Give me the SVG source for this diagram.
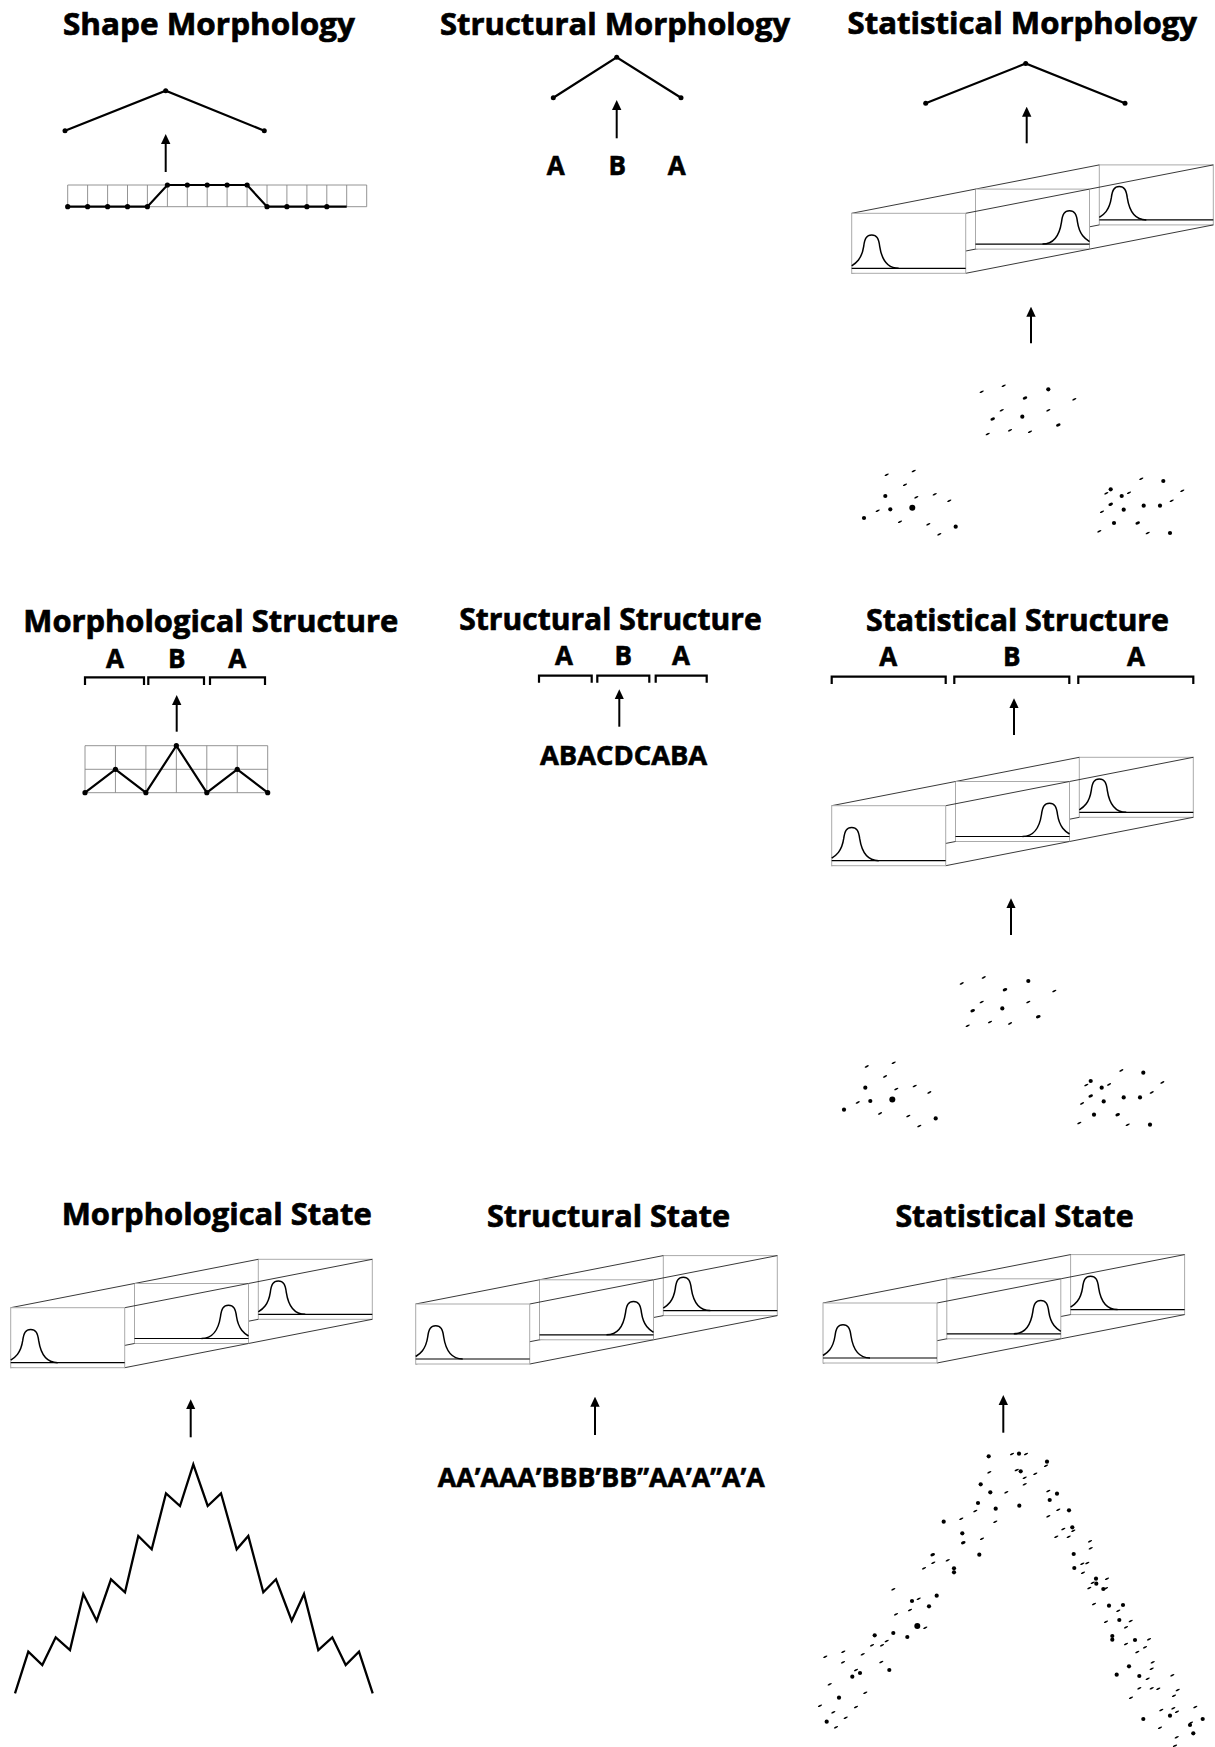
<svg xmlns="http://www.w3.org/2000/svg" xmlns:xlink="http://www.w3.org/1999/xlink" width="1215" height="1747" viewBox="0 0 1215 1747">
<style>
.t{font-family:"Open Sans","Liberation Sans",sans-serif;font-weight:700;font-size:31px;fill:#000;stroke:#000;stroke-width:0.7}
.l{font-family:"Open Sans","Liberation Sans",sans-serif;font-weight:700;font-size:26px;fill:#000;stroke:#000;stroke-width:0.6;text-anchor:middle}
.tr{fill:none;stroke:#000;stroke-width:2.2}
.grid{fill:none;stroke:#888;stroke-width:0.9}
.zz{fill:none;stroke:#000;stroke-width:2.3;stroke-linejoin:miter}
.br{fill:none;stroke:#000;stroke-width:2.2}
.pn{fill:#fff;stroke:#aaa;stroke-width:1}
.bl{stroke:#000;stroke-width:1.2}
.cv{fill:none;stroke:#000;stroke-width:1.5}
.ed{stroke:#222;stroke-width:0.9}
.ar{stroke:#000;stroke-width:2;marker-end:url(#ah)}
</style>
<defs>
<marker id="ah" viewBox="0 0 10 10" markerUnits="userSpaceOnUse" markerWidth="10" markerHeight="10" refX="1" refY="5" orient="auto">
<path d="M0,0.3 L10,5 L0,9.7 Z" fill="#000"/>
</marker>
<circle id="o" r="2.1"/>
<circle id="O" r="3"/>
<ellipse id="e" rx="2.4" ry="1.5" transform="rotate(-25)"/>
<ellipse id="s" rx="2.3" ry="0.85" transform="rotate(-25)"/>
<g id="box">
<g transform="translate(247.6,-48.4)">
<rect class="pn" width="114" height="60"/>
<line class="bl" x1="0" y1="55" x2="114" y2="55"/>
<path class="cv" d="M0,52.5 C4,50 10,46 12,33 C13,25 15,21.7 20,21.7 C25,21.7 27,25 28,33 C30,46 36,55 47,55"/>
</g>
<line class="ed" x1="123.8" y1="-24.2" x2="247.6" y2="-48.4"/>
<line class="ed" x1="237.8" y1="-24.2" x2="361.6" y2="-48.4"/>
<line class="ed" x1="123.8" y1="35.8" x2="247.6" y2="11.6"/>
<line class="ed" x1="237.8" y1="35.8" x2="361.6" y2="11.6"/>
<g transform="translate(123.8,-24.2)">
<rect class="pn" width="114" height="60"/>
<line class="bl" x1="0" y1="55" x2="114" y2="55"/>
<path class="cv" d="M67,55 C78,55 84,46 86,33 C87,25 89,21.7 94,21.7 C99,21.7 101,25 102,33 C104,46 110,50 114,52.5"/>
</g>
<line class="ed" x1="0" y1="0" x2="123.8" y2="-24.2"/>
<line class="ed" x1="114" y1="0" x2="237.8" y2="-24.2"/>
<line class="ed" x1="0" y1="60" x2="123.8" y2="35.8"/>
<line class="ed" x1="114" y1="60" x2="237.8" y2="35.8"/>
<g>
<rect class="pn" width="114" height="60"/>
<line class="bl" x1="0" y1="55" x2="114" y2="55"/>
<path class="cv" d="M0,52.5 C4,50 10,46 12,33 C13,25 15,21.7 20,21.7 C25,21.7 27,25 28,33 C30,46 36,55 47,55"/>
</g>
</g>
<g id="cloud">
<use href="#s" x="981.7" y="391.7"/><use href="#s" x="1003.7" y="385.7"/><use href="#o" x="1048.3" y="389.3"/>
<use href="#e" x="1025" y="398"/><use href="#s" x="1074.3" y="399.3"/><use href="#s" x="1001.7" y="410.3"/>
<use href="#s" x="1048.3" y="410.3"/><use href="#e" x="992.7" y="419"/><use href="#o" x="1022.3" y="416.7"/>
<use href="#e" x="1058.3" y="425"/><use href="#s" x="987.7" y="434"/><use href="#s" x="1010" y="430.3"/>
<use href="#s" x="1030" y="431.7"/>
<use href="#s" x="886.7" y="474.7"/><use href="#s" x="913.7" y="471"/><use href="#s" x="905" y="484.7"/>
<use href="#o" x="885.3" y="496"/><use href="#s" x="916.3" y="497.3"/><use href="#s" x="934.7" y="494.3"/>
<use href="#s" x="949.3" y="500.7"/><use href="#s" x="877.7" y="510.7"/><use href="#o" x="890.3" y="509.3"/>
<use href="#O" x="912.3" y="507.7"/><use href="#o" x="864" y="518"/><use href="#s" x="900" y="521.7"/>
<use href="#s" x="928.3" y="524.3"/><use href="#o" x="955.7" y="526.7"/><use href="#s" x="939.3" y="534.3"/>
<use href="#s" x="1141.3" y="478.7"/><use href="#o" x="1163.3" y="481"/><use href="#s" x="1182.3" y="490.7"/>
<use href="#o" x="1110.7" y="489.3"/><use href="#s" x="1106.3" y="493.3"/><use href="#o" x="1121.7" y="496"/>
<use href="#s" x="1129" y="492.7"/><use href="#e" x="1110.7" y="504.3"/><use href="#s" x="1102" y="511.7"/>
<use href="#o" x="1123.7" y="509.7"/><use href="#o" x="1143.7" y="505.7"/><use href="#o" x="1160" y="505.7"/>
<use href="#s" x="1171.7" y="500.7"/><use href="#o" x="1114" y="523"/><use href="#e" x="1137.7" y="523"/>
<use href="#s" x="1099.3" y="531.3"/><use href="#s" x="1147.7" y="533"/><use href="#o" x="1170" y="533"/>
</g>
</defs>
<rect width="1215" height="1747" fill="#fff"/>

<g id="shape-morphology">
<text class="t" x="63" y="35" textLength="292" lengthAdjust="spacingAndGlyphs">Shape Morphology</text>
<polyline class="tr" points="65,130.7 165.7,90.7 264.3,130.7"/>
<circle cx="65" cy="130.7" r="2.5"/><circle cx="165.7" cy="90.7" r="2.5"/><circle cx="264.3" cy="130.7" r="2.5"/>
<path class="grid" d="M67.7,185 H366.7 V206.7 H67.7 Z M87.6,185 V206.7 M107.6,185 V206.7 M127.5,185 V206.7 M147.4,185 V206.7 M167.4,185 V206.7 M187.3,185 V206.7 M207.2,185 V206.7 M227.1,185 V206.7 M247.1,185 V206.7 M267,185 V206.7 M286.9,185 V206.7 M306.9,185 V206.7 M326.8,185 V206.7 M346.7,185 V206.7"/>
<polyline class="tr" points="67.7,206.7 147.4,206.7 167.4,185 247.1,185 267,206.7 346.7,206.7"/>
<g>
<circle cx="67.7" cy="206.7" r="2.6"/><circle cx="87.6" cy="206.7" r="2.6"/><circle cx="107.6" cy="206.7" r="2.6"/><circle cx="127.5" cy="206.7" r="2.6"/><circle cx="147.4" cy="206.7" r="2.6"/>
<circle cx="167.4" cy="185" r="2.6"/><circle cx="187.3" cy="185" r="2.6"/><circle cx="207.2" cy="185" r="2.6"/><circle cx="227.1" cy="185" r="2.6"/><circle cx="247.1" cy="185" r="2.6"/>
<circle cx="267" cy="206.7" r="2.6"/><circle cx="286.9" cy="206.7" r="2.6"/><circle cx="306.9" cy="206.7" r="2.6"/><circle cx="326.8" cy="206.7" r="2.6"/>
</g>
</g>

<g id="structural-morphology">
<text class="t" x="440" y="35" textLength="350" lengthAdjust="spacingAndGlyphs">Structural Morphology</text>
<polyline class="tr" points="553.3,97.7 616.7,57.3 681,97.7"/>
<circle cx="553.3" cy="97.7" r="2.5"/><circle cx="616.7" cy="57.3" r="2.5"/><circle cx="681" cy="97.7" r="2.5"/>
<text class="l" x="555.7" y="175">A</text>
<text class="l" x="617.3" y="175">B</text>
<text class="l" x="676.7" y="175">A</text>
</g>

<g id="statistical-morphology">
<text class="t" x="847.5" y="34" textLength="349.5" lengthAdjust="spacingAndGlyphs">Statistical Morphology</text>
<polyline class="tr" points="925.7,103.3 1025.7,63.5 1125,103.3"/>
<circle cx="925.7" cy="103.3" r="2.5"/><circle cx="1025.7" cy="63.5" r="2.5"/><circle cx="1125" cy="103.3" r="2.5"/>
<use href="#box" transform="translate(851.7,213.3)"/>
<use href="#cloud"/>
</g>

<g id="morphological-structure">
<text class="t" x="23.3" y="631.7" textLength="375" lengthAdjust="spacingAndGlyphs">Morphological Structure</text>
<text class="l" x="115" y="668.3">A</text>
<text class="l" x="176.7" y="668.3">B</text>
<text class="l" x="237.3" y="668.3">A</text>
<path class="br" d="M85,685 V677.3 H144 V685 M148.3,685 V677.3 H204 V685 M210,685 V677.3 H265 V685"/>
<path class="grid" d="M85,745.7 H267.7 V792.7 H85 Z M85,769.3 H267.7 M115.45,745.7 V792.7 M145.9,745.7 V792.7 M176.35,745.7 V792.7 M206.8,745.7 V792.7 M237.25,745.7 V792.7"/>
<polyline class="tr" points="85,792.7 115.45,769.3 145.9,792.7 176.35,745.7 206.8,792.7 237.25,769.3 267.7,792.7"/>
<circle cx="85" cy="792.7" r="2.6"/><circle cx="115.45" cy="769.3" r="2.6"/><circle cx="145.9" cy="792.7" r="2.6"/><circle cx="176.35" cy="745.7" r="2.6"/><circle cx="206.8" cy="792.7" r="2.6"/><circle cx="237.25" cy="769.3" r="2.6"/><circle cx="267.7" cy="792.7" r="2.6"/>
</g>

<g id="structural-structure">
<text class="t" x="459.3" y="630" textLength="302.4" lengthAdjust="spacingAndGlyphs">Structural Structure</text>
<text class="l" x="564" y="665">A</text>
<text class="l" x="623.3" y="665">B</text>
<text class="l" x="681" y="665">A</text>
<path class="br" d="M539,682.7 V675.7 H591.7 V682.7 M597.3,682.7 V675.7 H649.3 V682.7 M655.7,682.7 V675.7 H706.7 V682.7"/>
<text class="l" x="623.6" y="765" textLength="167.3" lengthAdjust="spacingAndGlyphs">ABACDCABA</text>
</g>

<g id="statistical-structure">
<text class="t" x="866" y="630.5" textLength="303" lengthAdjust="spacingAndGlyphs">Statistical Structure</text>
<text class="l" x="888.3" y="666">A</text>
<text class="l" x="1011.7" y="666">B</text>
<text class="l" x="1136" y="666">A</text>
<path class="br" d="M831.7,684 V676.7 H945.7 V684 M954.3,684 V676.7 H1069.3 V684 M1078.3,684 V676.7 H1193.3 V684"/>
<use href="#box" transform="translate(831.7,805.7)"/>
<use href="#cloud" transform="translate(-20,591.7)"/>
</g>

<g id="morphological-state">
<text class="t" x="61.7" y="1225" textLength="310" lengthAdjust="spacingAndGlyphs">Morphological State</text>
<use href="#box" transform="translate(10.7,1307.7)"/>
<polyline class="zz" points="15,1693.3 28.3,1651.7 42.3,1665 55.7,1637.3 70,1650 83.3,1594 96.7,1620.7 111,1579.3 125,1592.3 138.3,1536 151.7,1549.3 166,1493.3 180,1506 193.3,1464.3 207.7,1506 221,1493.3 236.7,1549.3 248.3,1536 263.3,1592.3 276,1579.3 291.7,1620.7 304,1594 318.3,1650 332.3,1637.3 345.7,1665 359,1651.7 372.7,1693.3"/>
</g>

<g id="structural-state">
<text class="t" x="487" y="1226.7" textLength="243" lengthAdjust="spacingAndGlyphs">Structural State</text>
<use href="#box" transform="translate(415.7,1304)"/>
<text class="l" x="601.3" y="1487" textLength="327" lengthAdjust="spacingAndGlyphs">AA’AAA’BBB’BB”AA’A”A’A</text>
</g>

<g id="statistical-state">
<text class="t" x="895.4" y="1227" textLength="238.3" lengthAdjust="spacingAndGlyphs">Statistical State</text>
<use href="#box" transform="translate(823,1303)"/>
<g>
<use href="#o" x="988.7" y="1456.3"/><use href="#s" x="1012" y="1454"/><use href="#o" x="1019" y="1453.7"/><use href="#s" x="1026" y="1454"/>
<use href="#o" x="1047" y="1461.7"/><use href="#s" x="1046" y="1465.7"/><use href="#s" x="989.3" y="1472.3"/><use href="#s" x="1016.7" y="1470"/>
<use href="#o" x="1020.7" y="1471.3"/><use href="#s" x="1024.7" y="1477.7"/><use href="#s" x="1035.3" y="1473.7"/><use href="#s" x="1024.7" y="1484.3"/>
<use href="#o" x="980.7" y="1484.3"/><use href="#o" x="990.3" y="1492.3"/><use href="#s" x="1006.3" y="1492.3"/><use href="#s" x="1048.3" y="1491"/>
<use href="#o" x="1057" y="1493.7"/><use href="#o" x="1049.7" y="1500"/><use href="#o" x="978" y="1503"/><use href="#s" x="975.3" y="1511"/>
<use href="#o" x="995.7" y="1508.7"/><use href="#o" x="1019.3" y="1505.7"/><use href="#s" x="1058.3" y="1509.7"/><use href="#o" x="1069" y="1510.3"/>
<use href="#s" x="1048.3" y="1516.3"/><use href="#s" x="995.3" y="1521.7"/><use href="#o" x="943.7" y="1521.7"/><use href="#s" x="961.3" y="1518.7"/>
<use href="#o" x="962.3" y="1533.3"/><use href="#e" x="963.3" y="1542.7"/><use href="#s" x="982" y="1538.7"/><use href="#o" x="979.3" y="1554.7"/>
<use href="#s" x="1063.3" y="1529"/><use href="#o" x="1072.3" y="1527.3"/><use href="#s" x="1073.3" y="1530.7"/><use href="#s" x="1056.3" y="1536.7"/>
<use href="#s" x="1068.7" y="1536.7"/><use href="#s" x="1090" y="1541.3"/><use href="#s" x="1090.7" y="1548.3"/><use href="#o" x="1073.7" y="1554"/>
<use href="#e" x="932.7" y="1554.7"/><use href="#s" x="933.3" y="1562.7"/><use href="#s" x="924" y="1568.3"/><use href="#s" x="947.7" y="1560.3"/>
<use href="#o" x="954" y="1568.3"/><use href="#o" x="954" y="1572.3"/><use href="#o" x="1074.3" y="1568"/><use href="#s" x="1082.3" y="1563.7"/>
<use href="#s" x="1087.3" y="1563"/><use href="#s" x="1083" y="1572.7"/><use href="#o" x="1096" y="1578.7"/><use href="#s" x="1107" y="1578.7"/>
<use href="#s" x="1092.7" y="1582.7"/><use href="#o" x="1096.3" y="1583.7"/><use href="#o" x="1103.3" y="1589"/><use href="#s" x="1106" y="1588.3"/>
<use href="#s" x="1089.3" y="1588"/><use href="#s" x="893.3" y="1589.3"/><use href="#o" x="936.7" y="1595.7"/><use href="#s" x="918.7" y="1598.7"/>
<use href="#o" x="912" y="1601"/><use href="#o" x="929" y="1606.3"/><use href="#s" x="910" y="1610"/><use href="#s" x="896" y="1614.3"/>
<use href="#s" x="1094" y="1604"/><use href="#o" x="1109" y="1605.7"/><use href="#o" x="1123" y="1605"/><use href="#s" x="1118.3" y="1610.7"/>
<use href="#s" x="1106" y="1621.7"/><use href="#o" x="1119.3" y="1620"/><use href="#s" x="1130.7" y="1621"/><use href="#s" x="1126" y="1627.3"/>
<use href="#O" x="917.3" y="1626"/><use href="#s" x="925.3" y="1627.7"/><use href="#o" x="893.3" y="1633"/><use href="#o" x="907.3" y="1637"/>
<use href="#o" x="874.7" y="1635.3"/><use href="#s" x="886.7" y="1641"/><use href="#s" x="882" y="1645.3"/><use href="#s" x="872" y="1645.3"/>
<use href="#o" x="1112.3" y="1636"/><use href="#o" x="1112.3" y="1639.7"/><use href="#s" x="1126" y="1644"/><use href="#o" x="1135" y="1640"/>
<use href="#s" x="1149" y="1639.3"/><use href="#s" x="1145" y="1647.3"/><use href="#s" x="1137.3" y="1652"/><use href="#s" x="843.3" y="1651.7"/>
<use href="#s" x="825.3" y="1656.7"/><use href="#s" x="862.7" y="1654.3"/><use href="#s" x="843" y="1662.3"/><use href="#s" x="881.3" y="1662"/>
<use href="#o" x="889.3" y="1670"/><use href="#s" x="856" y="1670"/><use href="#o" x="860" y="1673"/><use href="#o" x="852.3" y="1676.7"/>
<use href="#o" x="1129" y="1666.3"/><use href="#s" x="1152.7" y="1662.3"/><use href="#s" x="1151.7" y="1668.7"/><use href="#o" x="1116.7" y="1674.7"/>
<use href="#o" x="1139.3" y="1676"/><use href="#s" x="1147.7" y="1678.7"/><use href="#s" x="1172.3" y="1675.3"/><use href="#s" x="829.7" y="1684.3"/>
<use href="#o" x="839" y="1697.7"/><use href="#s" x="865.3" y="1692.7"/><use href="#s" x="1139.3" y="1688.3"/><use href="#s" x="1151.7" y="1688.3"/>
<use href="#s" x="1158.3" y="1688.7"/><use href="#s" x="1177.7" y="1690"/><use href="#s" x="1174" y="1695.7"/><use href="#s" x="1131" y="1697.7"/>
<use href="#s" x="820" y="1705.7"/><use href="#s" x="856" y="1707"/><use href="#s" x="833.3" y="1712.3"/><use href="#s" x="1161.3" y="1710"/>
<use href="#s" x="1173.3" y="1708.3"/><use href="#s" x="1177" y="1711.7"/><use href="#o" x="1170" y="1715.7"/><use href="#s" x="1195.3" y="1707"/>
<use href="#s" x="845.7" y="1717.7"/><use href="#o" x="826.7" y="1721.7"/><use href="#s" x="836" y="1727.3"/><use href="#o" x="1143.3" y="1719"/>
<use href="#s" x="1160" y="1727.7"/><use href="#s" x="1191" y="1722.7"/><use href="#o" x="1190" y="1725"/><use href="#o" x="1202.7" y="1719"/>
<use href="#o" x="1193.3" y="1733.3"/><use href="#s" x="1176.7" y="1737.3"/><use href="#s" x="1175" y="1745.7"/>
</g>
</g>

<g id="connectors">
<line class="ar" x1="165.7" y1="172" x2="165.7" y2="143"/>
<line class="ar" x1="616.7" y1="138.3" x2="616.7" y2="109"/>
<line class="ar" x1="1026.7" y1="143.3" x2="1026.7" y2="115.7"/>
<line class="ar" x1="1031" y1="343.3" x2="1031" y2="315.7"/>
<line class="ar" x1="176.7" y1="731.7" x2="176.7" y2="704"/>
<line class="ar" x1="619.3" y1="726.7" x2="619.3" y2="698.3"/>
<line class="ar" x1="1014" y1="735" x2="1014" y2="707.3"/>
<line class="ar" x1="1011" y1="935" x2="1011" y2="907.3"/>
<line class="ar" x1="190.7" y1="1437.3" x2="190.7" y2="1408.3"/>
<line class="ar" x1="595" y1="1435" x2="595" y2="1405.7"/>
<line class="ar" x1="1003.3" y1="1432.7" x2="1003.3" y2="1404"/>
</g>
</svg>
